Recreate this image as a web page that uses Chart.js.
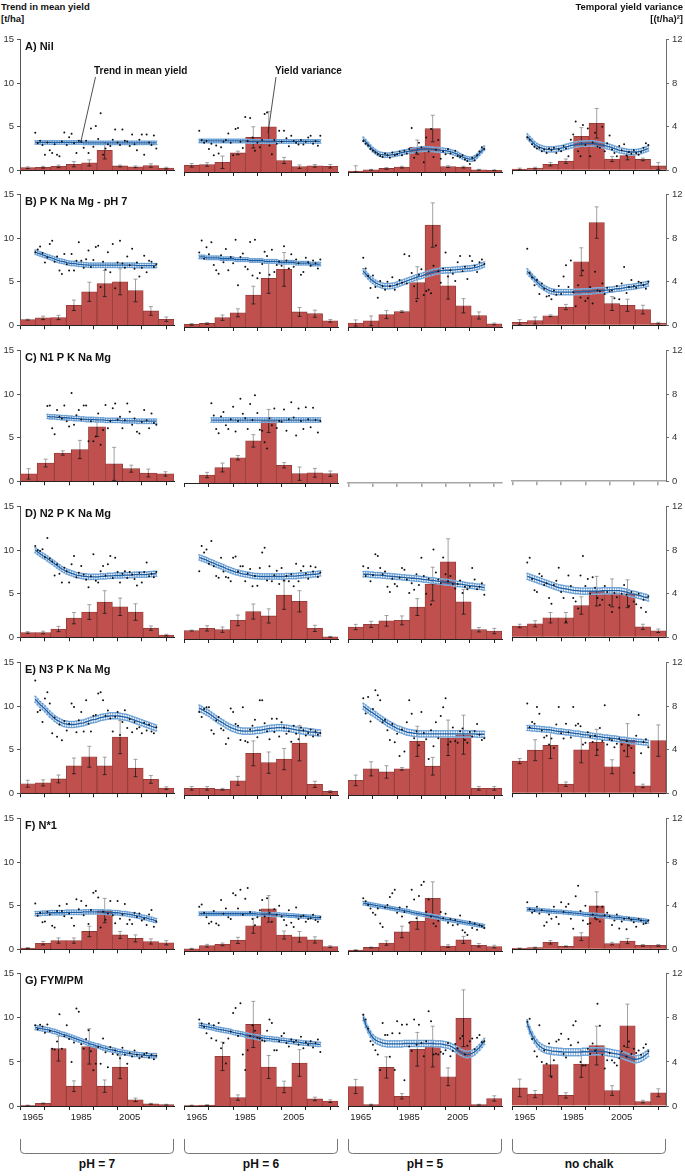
<!DOCTYPE html>
<html>
<head>
<meta charset="utf-8">
<script src="https://cdn.jsdelivr.net/npm/chart.js@4.4.0/dist/chart.umd.min.js"></script>
<style>
  html, body { margin: 0; padding: 0; background: #fff; }
  body { width: 685px; height: 1176px; position: relative; overflow: hidden;
         font-family: 'Liberation Sans', Arial, sans-serif; color: #111; }
  canvas { position: absolute; }
  .lbl { position: absolute; white-space: nowrap; font-weight: bold; line-height: 12px; }
  svg { position: absolute; left: 0; top: 0; }
</style>
</head>
<body>
<script>
// Years of the annual records
const yearsAll = [1966,1967,1968,1969,1970,1971,1972,1973,1974,1975,
                  1976,1977,1978,1979,1980,1981,1982,1983,1984,1985,
                  1986,1987,1988,1989,1990,1991,1992,1993,1994,1995,
                  1996,1997,1998,1999,2000,2001,2002,2003,2004,2005,
                  2006,2007,2008,2009,2010,2011,2012,2013,2014,2015,2016];
const yearsN1 = yearsAll.slice(5); // N1 plots only from 1971
const xTickYears = [1965, 1975, 1985, 1995, 2005, 2015];
const xLabelYears = [1965, 1985, 2005];

const rowTitles = ['A) Nil', 'B) P K Na Mg - pH 7', 'C) N1 P K Na Mg', 'D) N2 P K Na Mg',
                   'E) N3 P K Na Mg', 'F) N*1', 'G) FYM/PM'];
const colTitles = ['pH = 7', 'pH = 6', 'pH = 5', 'no chalk'];

// ---- A) Nil ----
const yieldA1 = [4.3,3.1,3.4,2.9,1.8,3.2,2.3,2.0,3.0,1.8, 1.6,3.3,4.35,2.9,3.8,4.2,3.1,2.0,3.4,3.3, 2.6,3.4,2.0,4.8,2.7,5.1,3.6,6.55,1.8,2.5, 3.0,2.8,3.5,4.7,3.2,2.9,4.7,3.4,3.3,2.8, 4.1,3.0,2.3,3.5,4.1,1.8,4.1,3.2,2.9,4.0, 2.5];
const yieldA2 = [4.65,3.6,3.3,3.5,2.6,3.2,1.9,3.0,2.1,2.8, 3.4,3.6,4.35,3.3,1.9,4.85,4.95,3.4,2.7,6.2, 3.5,6.1,3.9,2.4,3.3,2.8,3.6,6.55,6.7,3.0, 2.0,3.6,3.2,4.65,3.4,4.65,3.8,2.9,4.1,3.5, 3.3,3.1,3.6,3.1,3.4,3.9,4.1,3.2,3.5,2.95, 4.1];
const yieldA3 = [3.5,3.2,3.0,2.6,2.4,2.2,2.0,1.8,1.7,2.1, 1.9,1.6,2.2,1.9,2.0,2.3,1.9,2.4,2.1,2.6, 4.95,1.6,2.2,3.3,2.8,1.1,3.9,2.3,4.85,1.7, 2.5,3.6,1.5,2.3,2.0,2.6,2.1,1.6,2.4,1.8, 1.7,1.9,1.4,1.25,0.9,1.6,1.3,1.9,2.3,2.8, 2.6];
const yieldA4 = [3.8,3.5,3.0,2.7,2.5,2.6,2.2,2.4,2.0,2.5, 2.3,2.6,2.0,2.4,2.2,2.8,2.5,1.6,3.5,4.1, 5.6,2.2,1.6,5.2,2.9,4.8,1.6,3.2,4.3,2.7, 2.6,5.0,2.2,3.1,4.0,2.4,2.0,1.6,2.8,2.3, 3.0,1.7,2.1,1.9,2.3,2.0,1.8,2.1,2.6,3.1, 2.9];
const trendA1 = [3.2,3.2,3.2,3.2,3.2,3.2,3.2,3.2,3.2,3.2, 3.2,3.2,3.2,3.2,3.2,3.2,3.2,3.2,3.2,3.2, 3.15,3.15,3.15,3.15,3.15,3.15,3.15,3.15,3.15,3.15, 3.15,3.15,3.15,3.15,3.15,3.15,3.15,3.15,3.15,3.15, 3.15,3.15,3.15,3.15,3.15,3.15,3.15,3.15,3.15,3.15, 3.15];
const trendA2 = [3.5,3.5,3.5,3.5,3.5,3.5,3.5,3.5,3.5,3.5, 3.5,3.5,3.5,3.5,3.5,3.5,3.5,3.5,3.5,3.5, 3.45,3.45,3.45,3.45,3.45,3.45,3.45,3.45,3.45,3.45, 3.45,3.45,3.45,3.45,3.45,3.45,3.45,3.45,3.45,3.45, 3.45,3.45,3.45,3.45,3.45,3.45,3.45,3.45,3.45,3.45, 3.45];
const trendA3 = [3.7,3.4,3.1,2.8,2.5,2.3,2.1,2.0,1.95,1.9, 1.9,1.9,1.95,2.0,2.05,2.1,2.2,2.25,2.3,2.35, 2.4,2.45,2.5,2.55,2.55,2.6,2.6,2.6,2.55,2.55, 2.5,2.5,2.45,2.45,2.4,2.35,2.3,2.2,2.1,2.0, 1.85,1.7,1.6,1.5,1.45,1.45,1.6,1.8,2.1,2.4, 2.7];
const trendA4 = [3.9,3.6,3.3,3.0,2.8,2.65,2.55,2.45,2.4,2.4, 2.4,2.4,2.45,2.5,2.55,2.6,2.7,2.75,2.85,2.9, 2.95,3.0,3.05,3.05,3.1,3.1,3.1,3.1,3.05,3.0, 2.95,2.9,2.85,2.75,2.7,2.6,2.5,2.4,2.3,2.25, 2.2,2.15,2.1,2.1,2.1,2.1,2.15,2.2,2.3,2.4, 2.5];
const varA1 = [0.24,0.28,0.36,0.56,0.68,1.84,0.40,0.32,0.44,0.20];
const varA2 = [0.6,0.68,0.88,1.72,3.12,4.08,1.04,0.48,0.56,0.52];
const varA3 = [0.08,0.2,0.32,0.44,2.24,3.92,0.48,0.44,0.2,0.16];
const varA4 = [0.12,0.2,0.56,0.84,3.12,4.32,1.04,1.36,1.0,0.4];
const errA1 = [0.08,0.08,0.12,0.24,0.28,0.8,0.08,0.08,0.16,0.08];
const errA2 = [0.16,0.16,0.56,0.16,0.96,1.36,0.28,0.16,0.12,0.16];
const errA3 = [0.48,0.04,0.08,0.08,0.64,1.2,0.08,0.08,0.04,0.04];
const errA4 = [0.08,0.08,0.16,0.2,0.8,1.36,0.24,0.4,0.12,0.32];

// ---- B) P K Na Mg - pH 7 ----
const yieldB1 = [8.4,8.7,9.05,8.3,7.2,7.8,9.35,9.7,7.3,7.9, 6.3,5.9,8.2,7.0,6.3,8.2,6.3,7.4,9.55,7.4, 6.6,7.6,8.6,6.7,7.5,9.0,9.15,4.4,7.3,6.4, 8.4,6.1,9.35,4.25,7.2,9.7,7.1,6.6,7.9,6.9, 8.8,6.5,7.2,5.6,6.6,8.0,6.1,7.4,7.3,6.7, 7.0];
const yieldB2 = [8.4,9.75,7.7,9.0,8.2,9.55,7.0,6.4,6.0,8.1, 7.3,8.8,6.4,7.9,7.2,9.85,4.7,7.9,8.3,6.8, 6.5,9.6,5.8,9.85,5.5,6.1,7.1,8.5,8.0,5.9, 8.7,6.2,7.0,7.4,6.9,9.1,7.5,6.6,8.2,6.8, 7.6,7.2,5.9,6.2,7.8,7.3,6.9,7.5,7.2,6.6, 7.6];
const yieldB3 = [7.8,6.6,5.75,4.4,5.8,4.5,3.3,5.2,4.6,4.2, 5.1,4.6,5.6,4.2,4.8,5.3,5.0,8.2,4.9,8.0, 6.1,4.6,2.9,5.9,6.5,3.6,4.05,4.2,3.8,6.9, 9.2,6.3,5.0,6.6,8.4,5.7,6.4,6.0,5.2,7.3, 8.0,6.3,6.8,5.4,8.0,7.45,6.9,6.2,7.3,7.6, 7.1];
const yieldB4 = [8.8,6.0,5.5,4.6,5.2,3.6,4.8,4.2,3.3,3.4, 3.0,4.0,3.5,4.5,3.6,5.6,6.9,4.4,7.45,3.8, 2.2,4.6,3.2,6.3,2.8,3.1,4.4,2.5,6.15,4.0, 3.9,4.8,3.6,4.3,3.9,4.0,3.1,4.5,3.0,4.8, 6.7,3.7,4.4,5.2,4.5,4.3,5.0,4.9,4.6,4.2, 5.0];
const trendB1 = [8.4,8.3,8.2,8.1,8.0,7.9,7.8,7.7,7.6,7.5, 7.4,7.35,7.3,7.2,7.15,7.1,7.1,7.05,7.0,7.0, 6.95,6.95,6.9,6.9,6.9,6.9,6.9,6.9,6.9,6.9, 6.9,6.9,6.9,6.9,6.9,6.9,6.9,6.9,6.9,6.9, 6.9,6.9,6.85,6.85,6.85,6.85,6.85,6.85,6.85,6.85, 6.85];
const trendB2 = [7.9,7.9,7.9,7.8,7.8,7.8,7.8,7.8,7.8,7.7, 7.7,7.7,7.7,7.7,7.7,7.6,7.6,7.6,7.6,7.6, 7.6,7.5,7.5,7.5,7.5,7.5,7.5,7.4,7.4,7.4, 7.4,7.4,7.4,7.3,7.3,7.3,7.3,7.3,7.3,7.3, 7.2,7.2,7.2,7.2,7.2,7.2,7.1,7.1,7.1,7.1, 7.1];
const trendB3 = [6.3,6.0,5.7,5.4,5.2,5.0,4.85,4.75,4.65,4.6, 4.6,4.6,4.65,4.7,4.8,4.9,5.0,5.1,5.2,5.3, 5.4,5.5,5.6,5.7,5.75,5.85,5.95,6.05,6.1,6.2, 6.25,6.3,6.35,6.35,6.4,6.4,6.4,6.45,6.45,6.5, 6.5,6.55,6.55,6.6,6.6,6.65,6.7,6.75,6.85,6.95, 7.05];
const trendB4 = [6.2,5.9,5.6,5.3,5.0,4.7,4.5,4.3,4.15,4.0, 3.9,3.85,3.8,3.8,3.8,3.8,3.8,3.8,3.8,3.8, 3.85,3.85,3.85,3.9,3.9,3.9,3.9,3.95,3.95,4.0, 4.0,4.0,4.05,4.05,4.1,4.1,4.15,4.2,4.2,4.25, 4.3,4.35,4.4,4.4,4.45,4.5,4.55,4.6,4.65,4.7, 4.8];
const varB1 = [0.52,0.68,0.72,1.84,3.08,3.84,4.0,3.2,1.32,0.56];
const varB2 = [0.24,0.32,0.84,1.28,2.88,4.4,5.2,1.36,1.2,0.56];
const varB3 = [0.36,0.56,1.12,1.4,4.0,9.2,3.72,1.92,1.04,0.28];
const varB4 = [0.28,0.44,0.88,1.68,5.84,9.44,2.0,1.84,1.44,0.2];
const errB1 = [0.04,0.16,0.2,0.48,0.88,1.2,1.2,1.04,0.4,0.2];
const errB2 = [0.08,0.08,0.24,0.36,0.8,1.36,1.52,0.4,0.32,0.12];
const errB3 = [0.28,0.44,0.36,0.08,1.44,2.0,1.2,0.64,0.32,0.08];
const errB4 = [0.24,0.32,0.08,0.24,1.28,1.44,0.64,0.56,0.4,0.08];

// ---- C) N1 P K Na Mg (from 1971, two pH levels only) ----
const yieldC1 = [8.65,8.7,6.1,5.4,8.2,7.4,7.2,8.7,6.9,6.3, 10.15,6.5,7.6,8.2,7.1,8.7,8.7,4.6,6.9,4.6, 5.15,7.8,4.2,5.9,8.75,6.1,6.9,8.4,8.95,7.1, 7.4,6.1,7.0,8.95,8.0,6.5,7.2,5.7,5.5,6.8, 8.2,7.0,6.1,7.8,6.7,6.5];
const yieldC2 = [9.0,7.6,6.1,5.6,7.5,8.0,6.5,6.1,7.2,8.6, 5.8,7.0,9.5,7.8,7.3,6.1,8.9,7.1,9.9,7.9, 6.0,5.9,4.6,3.9,7.3,6.5,8.4,6.2,7.0,6.9, 8.3,5.9,7.2,9.1,7.4,5.35,8.4,7.0,6.1,8.55, 7.2,6.3,8.5,7.1,5.7,7.0];
const trendC1 = [7.45,7.4,7.4,7.4,7.35,7.35,7.3,7.3,7.3,7.25, 7.25,7.2,7.2,7.2,7.15,7.15,7.1,7.1,7.1,7.1, 7.05,7.05,7.05,7.05,7.0,7.0,7.0,7.0,7.0,7.0, 7.0,6.95,6.95,6.95,6.95,6.95,6.95,6.9,6.9,6.9, 6.9,6.9,6.9,6.9,6.9,6.9];
const trendC2 = [7.1,7.1,7.1,7.1,7.1,7.1,7.1,7.1,7.1,7.1, 7.1,7.1,7.1,7.1,7.1,7.1,7.1,7.1,7.1,7.1, 7.1,7.1,7.1,7.1,7.1,7.1,7.1,7.1,7.1,7.1, 7.1,7.1,7.1,7.1,7.1,7.1,7.1,7.1,7.1,7.1, 7.1,7.1,7.1,7.1,7.1,7.1];
const varC1 = [0.68,1.68,2.6,2.92,5.0,1.6,1.16,0.76,0.68];
const varC2 = [null,0.72,1.4,2.28,3.8,5.6,1.6,0.84,0.92,0.84];
const errC1 = [0.48,0.36,0.2,0.84,0.88,1.52,0.32,0.36,0.2];
const errC2 = [0,0.24,0.4,0.2,0.56,1.04,0.24,0.6,0.4,0.24];

// ---- D) N2 P K Na Mg ----
const yieldD1 = [10.5,10.0,9.9,10.1,9.2,11.4,9.05,8.7,7.1,8.4, 7.3,6.3,8.0,7.6,6.3,8.4,9.35,6.9,7.4,8.2, 7.2,6.6,5.75,7.0,9.55,6.5,6.3,7.6,8.2,7.1, 8.4,9.35,6.8,9.15,7.5,6.3,7.3,7.6,6.8,7.5, 7.2,6.7,5.95,7.4,6.3,7.5,8.6,7.0,7.3,6.9, 7.5];
const yieldD2 = [7.65,10.5,9.75,10.1,8.5,11.05,8.2,7.1,6.9,9.15, 7.6,7.0,6.9,6.5,9.15,9.3,7.6,8.2,8.2,6.5, 7.4,7.9,5.95,7.1,6.0,8.0,9.75,10.3,6.6,8.2, 6.5,7.2,7.7,6.2,8.0,6.6,7.1,6.5,7.3,5.95, 8.5,6.5,7.7,8.2,7.4,6.8,8.2,7.6,8.1,7.0, 7.5];
const yieldD3 = [8.2,7.1,8.0,6.5,7.2,9.55,9.35,8.0,7.3,7.6, 5.9,5.3,6.8,6.2,5.95,6.9,8.0,7.8,6.7,5.2, 6.3,5.55,7.3,6.1,9.15,7.1,5.1,6.8,3.9,10.1, 7.5,6.7,6.3,9.2,7.3,6.5,7.1,6.2,5.7,6.2, 6.6,5.2,5.9,5.6,5.9,8.0,6.7,5.6,5.9,6.3, 5.0];
const yieldD4 = [8.6,9.15,6.7,5.4,5.2,7.3,7.0,6.0,6.2,4.5, 3.85,6.0,6.5,8.0,5.2,4.5,1.8,7.1,5.9,4.5, 4.1,3.3,7.1,9.35,5.9,6.7,5.0,6.9,5.7,4.5, 3.7,4.3,5.9,5.2,3.7,2.9,5.1,4.6,3.4,5.0, 6.0,4.9,3.6,5.2,4.1,3.8,5.0,3.4,4.3,2.9, 4.7];
const trendD1 = [10.0,9.8,9.6,9.4,9.25,9.05,8.85,8.65,8.45,8.25, 8.05,7.85,7.7,7.55,7.45,7.35,7.25,7.15,7.1,7.05, 7.0,7.0,6.95,6.95,6.95,6.95,6.95,7.0,7.0,7.0, 7.05,7.05,7.05,7.1,7.1,7.1,7.1,7.15,7.15,7.15, 7.15,7.2,7.2,7.2,7.2,7.2,7.2,7.25,7.25,7.3, 7.3];
const trendD2 = [9.2,9.1,9.0,8.9,8.75,8.65,8.55,8.4,8.3,8.2, 8.1,7.95,7.85,7.75,7.65,7.55,7.5,7.4,7.35,7.3, 7.25,7.2,7.15,7.1,7.1,7.05,7.05,7.05,7.05,7.05, 7.05,7.05,7.05,7.05,7.05,7.05,7.1,7.1,7.1,7.1, 7.1,7.15,7.15,7.2,7.2,7.25,7.25,7.3,7.3,7.35, 7.4];
const trendD3 = [7.3,7.3,7.3,7.25,7.25,7.2,7.2,7.2,7.15,7.15, 7.1,7.1,7.05,7.05,7.0,7.0,6.95,6.95,6.9,6.9, 6.85,6.85,6.8,6.8,6.75,6.7,6.7,6.65,6.6,6.6, 6.55,6.5,6.5,6.45,6.4,6.4,6.35,6.3,6.25,6.2, 6.2,6.15,6.1,6.05,6.0,6.0,5.95,5.9,5.9,5.85, 5.8];
const trendD4 = [7.0,6.9,6.8,6.7,6.6,6.5,6.4,6.3,6.2,6.1, 6.0,5.9,5.8,5.7,5.65,5.6,5.55,5.5,5.45,5.4, 5.35,5.35,5.3,5.3,5.3,5.3,5.3,5.3,5.3,5.3, 5.3,5.35,5.35,5.35,5.35,5.35,5.35,5.35,5.35,5.3, 5.25,5.2,5.1,5.0,4.95,4.9,4.8,4.75,4.65,4.6, 4.5];
const varD1 = [0.44,0.44,0.76,1.76,2.32,3.24,2.8,2.32,0.84,0.2];
const varD2 = [0.76,0.96,0.84,1.68,2.48,2.08,3.96,3.4,0.96,0.2];
const varD3 = [1.08,1.32,1.64,1.68,2.88,4.96,6.96,3.36,0.84,0.72];
const varD4 = [1.04,1.24,1.8,1.8,2.92,4.24,4.08,4.0,0.96,0.6];
const errD1 = [0.08,0.12,0.24,0.52,0.68,1.04,0.8,0.76,0.2,0.08];
const errD2 = [0.04,0.24,0.24,0.48,0.68,0.64,1.28,0.96,0.28,0.04];
const errD3 = [0.24,0.28,0.48,0.4,0.76,1.52,2.08,1.12,0.2,0.24];
const errD4 = [0.16,0.28,0.48,0.48,0.8,1.36,1.28,1.28,0.24,0.16];

// ---- E) N3 P K Na Mg ----
const yieldE1 = [12.95,9.35,9.55,8.2,10.9,11.6,10.3,6.9,8.7,6.5, 7.9,6.1,8.3,7.2,8.0,10.3,9.9,7.0,8.4,9.35, 7.1,10.7,8.0,7.1,8.9,9.0,11.45,11.6,10.7,8.9, 9.5,8.6,7.1,8.8,9.35,6.7,8.2,9.55,7.5,8.5, 7.0,8.2,7.4,7.6,6.9,8.1,7.2,7.9,7.1,6.9, 7.6];
const yieldE2 = [9.35,8.8,9.7,9.9,9.9,7.3,6.9,8.4,8.8,7.5, 7.3,5.75,6.4,9.75,9.35,8.0,7.8,6.2,9.9,6.1, 5.95,7.4,7.8,8.5,6.5,10.7,10.7,8.1,7.2,6.3, 8.6,7.1,8.6,6.6,8.2,7.6,6.9,7.2,6.0,7.8, 6.9,6.3,7.6,7.3,6.7,7.0,7.4,6.6,7.2,6.8, 7.0];
const yieldE3 = [10.9,9.2,11.05,8.3,9.7,11.8,11.25,10.7,8.2,8.5, 7.3,6.2,8.0,5.95,6.9,4.4,7.4,4.9,8.2,10.7, 9.15,6.4,7.2,5.6,9.35,7.0,6.3,4.05,7.3,5.5, 8.2,6.4,8.9,9.9,10.9,5.7,6.0,7.6,6.1,5.9, 7.2,7.5,6.2,5.9,7.1,6.6,7.2,8.0,6.8,6.2, 6.4];
const yieldE4 = [10.3,7.6,8.2,8.0,9.9,9.15,7.2,6.4,6.6,5.6, 6.3,5.2,7.9,9.9,6.9,6.3,8.0,7.0,6.4,9.9, 7.8,8.0,7.7,5.6,5.8,7.0,6.5,5.9,6.6,5.0, 7.5,6.0,10.1,5.6,6.2,6.1,5.3,5.7,6.3,5.6, 4.9,6.0,5.5,5.2,2.35,6.6,9.0,4.6,5.9,6.2, 5.3];
const trendE1 = [10.8,10.5,10.2,9.95,9.7,9.4,9.1,8.85,8.6,8.4, 8.25,8.1,8.0,7.95,7.9,7.9,7.9,7.95,8.0,8.05, 8.1,8.2,8.3,8.4,8.45,8.5,8.6,8.7,8.75,8.8, 8.85,8.9,8.9,8.9,8.9,8.85,8.8,8.75,8.7,8.6, 8.5,8.4,8.3,8.2,8.1,8.0,7.9,7.8,7.7,7.6, 7.5];
const trendE2 = [9.8,9.65,9.5,9.35,9.2,9.0,8.8,8.6,8.4,8.25, 8.1,7.9,7.75,7.6,7.5,7.4,7.3,7.25,7.2,7.2, 7.2,7.2,7.2,7.25,7.3,7.3,7.35,7.4,7.45,7.5, 7.55,7.55,7.6,7.6,7.6,7.55,7.55,7.5,7.45,7.4, 7.35,7.3,7.25,7.2,7.2,7.15,7.1,7.1,7.05,7.0, 7.0];
const trendE3 = [10.0,9.8,9.6,9.4,9.25,9.05,8.85,8.65,8.45,8.3, 8.1,7.95,7.8,7.65,7.5,7.4,7.3,7.2,7.1,7.05, 7.0,6.95,6.95,6.9,6.9,6.9,6.9,6.9,6.9,6.9, 6.9,6.9,6.9,6.9,6.9,6.9,6.9,6.9,6.9,6.9, 6.9,6.9,6.9,6.9,6.9,6.9,6.9,6.85,6.85,6.85, 6.85];
const trendE4 = [7.5,7.5,7.45,7.45,7.4,7.4,7.35,7.35,7.3,7.3, 7.25,7.2,7.15,7.1,7.1,7.05,7.0,7.0,6.95,6.9, 6.85,6.85,6.8,6.75,6.7,6.7,6.65,6.6,6.55,6.5, 6.5,6.45,6.4,6.4,6.35,6.3,6.3,6.25,6.2,6.15, 6.15,6.1,6.05,6.0,6.0,5.95,5.9,5.9,5.85,5.85, 5.8];
const varE1 = [0.88,0.96,1.32,2.52,3.36,2.52,5.16,2.32,1.28,0.48];
const varE2 = [0.6,0.6,0.52,1.28,3.76,2.92,3.24,4.68,0.96,0.32];
const varE3 = [1.32,2.36,2.08,2.36,4.84,2.6,5.16,5.44,0.6,0.6];
const varE4 = [2.96,3.96,4.4,0.84,4.0,4.68,2.44,4.88,0.68,4.84];
const errE1 = [0.32,0.28,0.36,0.72,0.96,0.8,1.52,0.8,0.36,0.12];
const errE2 = [0.16,0.16,0.08,0.4,1.12,0.96,0.96,1.6,0.28,0.08];
const errE3 = [0.48,0.64,0.56,0.12,1.36,0.8,1.6,1.76,0.16,0.16];
const errE4 = [0.24,0.96,1.2,0.2,1.2,1.2,0.64,1.52,0.16,1.44];

// ---- F) N*1 ----
const yieldF1 = [5.25,3.85,4.2,3.1,3.2,4.3,4.0,2.7,2.5,4.4, 5.0,4.4,3.8,5.2,4.1,3.6,2.7,5.75,4.6,5.55, 3.9,5.0,2.9,4.5,6.5,6.7,5.95,2.5,4.3,3.4, 4.1,5.55,3.9,3.0,5.55,3.5,4.0,5.2,2.9,3.4, 2.9,4.2,3.7,4.1,3.3,3.5,2.8,4.0,4.5,2.6, 3.2];
const yieldF2 = [5.0,5.25,4.3,3.8,3.1,3.3,4.5,3.1,2.9,5.75, 4.2,4.8,3.8,3.6,6.5,6.3,4.8,6.9,4.1,5.9, 7.1,4.4,3.6,2.9,3.8,4.6,5.75,3.9,5.95,4.3, 3.3,4.7,4.1,5.1,3.9,3.5,2.9,4.6,3.2,2.7, 4.9,3.6,3.9,4.0,3.3,3.6,3.7,4.1,3.5,3.3, 3.8];
const yieldF3 = [5.95,5.6,5.2,4.8,4.3,4.1,4.8,3.1,2.7,4.9, 5.2,6.1,6.5,6.9,4.3,4.9,3.9,4.4,5.0,3.2, 6.9,5.8,3.7,6.2,7.45,7.8,4.4,5.8,3.9,3.1, 2.8,3.4,4.4,3.7,4.2,3.2,3.6,2.9,3.5,3.0, 4.0,2.35,2.1,1.8,3.3,2.6,3.1,2.4,2.9,2.8, 2.6];
const yieldF4 = [5.4,4.6,4.2,4.4,4.9,4.1,4.5,2.7,3.1,4.0, 3.5,4.9,3.7,2.9,5.4,4.3,4.9,5.2,3.5,2.35, 6.1,7.3,4.4,3.3,5.0,2.9,3.0,4.0,3.6,4.9, 3.2,4.9,3.9,4.2,3.8,2.8,3.3,4.0,2.4,3.2, 3.5,2.3,3.6,3.4,3.1,2.6,3.5,3.3,2.9,3.0, 3.3];
const trendF1 = [4.1,4.1,4.1,4.15,4.15,4.15,4.2,4.2,4.2,4.2, 4.2,4.2,4.2,4.25,4.25,4.25,4.25,4.25,4.25,4.25, 4.3,4.3,4.3,4.3,4.3,4.3,4.3,4.3,4.3,4.25, 4.25,4.25,4.2,4.2,4.2,4.15,4.1,4.1,4.05,4.0, 3.95,3.9,3.85,3.8,3.7,3.65,3.6,3.5,3.45,3.35, 3.3];
const trendF2 = [4.2,4.2,4.2,4.2,4.2,4.2,4.2,4.2,4.2,4.2, 4.2,4.2,4.2,4.2,4.2,4.2,4.2,4.2,4.2,4.2, 4.2,4.2,4.2,4.2,4.15,4.15,4.15,4.15,4.15,4.15, 4.1,4.1,4.1,4.1,4.05,4.05,4.05,4.0,4.0,4.0, 3.95,3.95,3.9,3.9,3.9,3.85,3.85,3.8,3.8,3.75, 3.75];
const trendF3 = [5.4,5.35,5.3,5.25,5.2,5.15,5.1,5.05,5.0,4.95, 4.9,4.85,4.8,4.75,4.7,4.65,4.6,4.55,4.5,4.45, 4.35,4.3,4.25,4.2,4.15,4.1,4.05,4.0,3.95,3.9, 3.85,3.8,3.7,3.65,3.6,3.55,3.5,3.45,3.4,3.35, 3.3,3.25,3.2,3.15,3.1,3.05,3.0,2.95,2.9,2.85, 2.8];
const trendF4 = [4.6,4.6,4.55,4.55,4.5,4.5,4.45,4.45,4.4,4.4, 4.35,4.35,4.3,4.3,4.3,4.25,4.25,4.2,4.2,4.15, 4.15,4.1,4.1,4.05,4.0,4.0,3.95,3.95,3.9,3.9, 3.85,3.85,3.8,3.8,3.75,3.7,3.7,3.65,3.65,3.6, 3.55,3.55,3.5,3.45,3.45,3.4,3.35,3.35,3.3,3.25, 3.2];
const varF1 = [0.12,0.56,0.8,0.8,1.64,3.56,1.32,1.0,0.72,0.6];
const varF2 = [0.2,0.48,0.6,0.96,2.28,3.8,1.44,1.28,1.0,0.4];
const varF3 = [0.08,0.32,0.72,1.72,2.68,4.76,0.44,1.0,0.52,0.4];
const varF4 = [0.08,0.16,0.64,0.28,1.16,4.0,0.52,0.76,0.36,0.36];
const errF1 = [0.04,0.16,0.24,0.24,0.48,1.12,0.32,0.32,0.24,0.2];
const errF2 = [0.04,0.12,0.12,0.28,0.68,1.2,0.36,0.48,0.28,0.08];
const errF3 = [0.04,0.04,0.2,0.52,0.72,1.48,0.12,0.32,0.16,0.12];
const errF4 = [0.04,0.04,0.16,0.04,0.36,1.28,0.12,0.24,0.08,0.08];

// ---- G) FYM/PM ----
const yieldG1 = [9.15,8.7,9.2,9.0,8.3,9.25,8.5,6.5,6.4,7.3, 10.4,6.5,7.9,9.15,7.6,5.0,7.2,11.05,10.7,7.0, 6.5,7.6,8.6,6.2,4.05,4.8,6.7,4.8,7.65,6.1, 4.4,6.7,5.9,6.3,5.8,5.4,6.6,5.8,4.8,6.0, 5.6,6.3,5.8,5.4,5.6,5.9,6.0,5.5,5.8,5.3, 5.7];
const yieldG2 = [9.75,9.3,8.9,8.2,9.3,7.65,9.1,7.4,9.35,6.5, 7.1,4.8,7.6,8.4,10.5,11.05,7.9,11.6,5.8,4.05, 6.3,7.9,9.1,8.5,7.7,7.6,7.4,7.3,8.5,9.75, 9.35,6.3,6.3,7.3,7.9,8.2,7.1,6.7,7.5,7.2, 7.4,6.9,7.8,6.5,7.2,6.9,7.3,6.6,7.1,7.5, 6.1];
const yieldG3 = [10.3,9.75,8.7,7.3,6.9,6.3,5.8,4.05,9.35,8.0, 8.0,5.55,8.2,4.05,9.55,8.2,9.15,2.9,9.2,6.7, 6.2,9.75,6.9,9.15,7.1,5.6,7.3,10.7,9.55,5.8, 5.9,5.8,6.1,5.9,6.3,7.1,5.6,6.2,7.0,6.5, 7.6,7.9,5.8,6.8,7.3,7.6,6.4,7.7,8.0,7.2, 7.3];
const yieldG4 = [9.55,9.9,7.6,6.2,5.6,9.15,5.0,6.3,4.8,7.1, 3.3,5.2,7.3,7.5,8.2,5.9,5.5,7.6,6.9,9.15, 9.6,7.2,5.0,4.6,4.6,6.5,5.9,7.1,6.3,11.6, 9.1,5.8,4.25,5.2,6.0,5.2,4.9,4.6,5.4,6.2, 6.8,5.6,7.3,5.9,6.5,6.0,6.3,5.8,6.6,7.0, 6.2];
const trendG1 = [8.9,8.85,8.8,8.75,8.7,8.65,8.6,8.5,8.45,8.35, 8.25,8.15,8.1,8.0,7.9,7.8,7.7,7.6,7.5,7.4, 7.3,7.2,7.1,7.0,6.95,6.85,6.8,6.7,6.6,6.55, 6.45,6.4,6.35,6.3,6.2,6.15,6.1,6.05,6.0,5.95, 5.9,5.85,5.85,5.8,5.8,5.75,5.75,5.7,5.7,5.7, 5.7];
const trendG2 = [9.1,9.05,9.0,8.95,8.9,8.85,8.8,8.7,8.65,8.6, 8.55,8.5,8.45,8.4,8.3,8.25,8.2,8.15,8.1,8.0, 7.95,7.9,7.85,7.8,7.75,7.7,7.7,7.65,7.6,7.6, 7.55,7.5,7.5,7.45,7.4,7.4,7.35,7.3,7.3,7.25, 7.2,7.2,7.15,7.1,7.1,7.05,7.05,7.0,7.0,6.95, 6.95];
const trendG3 = [10.0,9.2,8.6,8.1,7.7,7.45,7.3,7.2,7.1,7.05, 7.0,7.0,7.0,7.0,7.0,7.0,7.0,7.05,7.05,7.05, 7.05,7.05,7.05,7.05,7.05,7.05,7.05,7.05,7.05,7.05, 7.0,7.0,7.0,6.95,6.9,6.85,6.75,6.6,6.45,6.3, 6.1,5.95,5.85,5.8,5.85,5.95,6.1,6.35,6.6,6.95, 7.3];
const trendG4 = [9.4,8.6,8.0,7.5,7.1,6.8,6.6,6.45,6.35,6.3, 6.25,6.2,6.2,6.15,6.15,6.1,6.1,6.1,6.1,6.1, 6.1,6.1,6.1,6.15,6.15,6.15,6.2,6.2,6.2,6.2, 6.2,6.2,6.15,6.1,6.05,6.0,5.95,5.9,5.85,5.8, 5.7,5.6,5.5,5.4,5.3,5.3,5.35,5.45,5.6,5.8, 6.0];
const varG1 = [0.04,0.24,5.2,1.8,5.4,1.8,3.52,0.56,0.2,0.12];
const varG2 = [0.04,0.08,4.48,0.76,7.36,3.52,1.72,3.88,0.64,0.44];
const varG3 = [1.76,0.12,3.48,0.88,5.12,5.36,2.64,7.92,0.12,0.68];
const varG4 = [1.64,1.08,3.76,0.96,3.8,5.48,1.4,7.28,0.4,1.2];
const errG1 = [0.04,0.04,1.12,0.48,1.6,0.56,1.04,0.16,0.04,0.04];
const errG2 = [0.04,0.04,1.28,0.24,2.08,1.04,0.52,1.2,0.16,0.12];
const errG3 = [0.64,0.04,0.96,0.24,1.52,1.84,0.8,2.56,0.04,0.24];
const errG4 = [0.8,0.32,1.04,0.24,1.2,1.76,0.44,1.96,0.12,0.36];

// one entry per panel: [row][column], null = treatment not present
const panels = [
  [ {yields: yieldA1, trend: trendA1, se: 0.2,  vari: varA1, err: errA1},
    {yields: yieldA2, trend: trendA2, se: 0.2,  vari: varA2, err: errA2},
    {yields: yieldA3, trend: trendA3, se: 0.25, vari: varA3, err: errA3},
    {yields: yieldA4, trend: trendA4, se: 0.3,  vari: varA4, err: errA4} ],
  [ {yields: yieldB1, trend: trendB1, se: 0.25, vari: varB1, err: errB1},
    {yields: yieldB2, trend: trendB2, se: 0.2,  vari: varB2, err: errB2},
    {yields: yieldB3, trend: trendB3, se: 0.3,  vari: varB3, err: errB3},
    {yields: yieldB4, trend: trendB4, se: 0.3,  vari: varB4, err: errB4} ],
  [ {years: yearsN1, yields: yieldC1, trend: trendC1, se: 0.25, vari: varC1, err: errC1},
    {years: yearsN1, yields: yieldC2, trend: trendC2, se: 0.25, vari: varC2, err: errC2},
    null, null ],
  [ {yields: yieldD1, trend: trendD1, se: 0.3,  vari: varD1, err: errD1},
    {yields: yieldD2, trend: trendD2, se: 0.3,  vari: varD2, err: errD2},
    {yields: yieldD3, trend: trendD3, se: 0.3,  vari: varD3, err: errD3},
    {yields: yieldD4, trend: trendD4, se: 0.35, vari: varD4, err: errD4} ],
  [ {yields: yieldE1, trend: trendE1, se: 0.35, vari: varE1, err: errE1},
    {yields: yieldE2, trend: trendE2, se: 0.35, vari: varE2, err: errE2},
    {yields: yieldE3, trend: trendE3, se: 0.35, vari: varE3, err: errE3},
    {yields: yieldE4, trend: trendE4, se: 0.3,  vari: varE4, err: errE4} ],
  [ {yields: yieldF1, trend: trendF1, se: 0.25, vari: varF1, err: errF1},
    {yields: yieldF2, trend: trendF2, se: 0.2,  vari: varF2, err: errF2},
    {yields: yieldF3, trend: trendF3, se: 0.2,  vari: varF3, err: errF3},
    {yields: yieldF4, trend: trendF4, se: 0.2,  vari: varF4, err: errF4} ],
  [ {yields: yieldG1, trend: trendG1, se: 0.25, vari: varG1, err: errG1},
    {yields: yieldG2, trend: trendG2, se: 0.25, vari: varG2, err: errG2},
    {yields: yieldG3, trend: trendG3, se: 0.35, vari: varG3, err: errG3},
    {yields: yieldG4, trend: trendG4, se: 0.4,  vari: varG4, err: errG4} ]
];

// layout
const PLOT_W = 154, PLOT_H = 133, PAD_T = 8;
const COL_LEFT = [20, 184, 348, 512];
function rowTop(r) { return Math.round(38.5 + 155.8 * r); }

Chart.defaults.font.family = "'Liberation Sans', Arial, sans-serif";
Chart.defaults.animation = false;

// ribbon with error ticks behind the trend line, whiskers on the variance bars
const errorBarPlugin = {
  id: 'errorBars',
  beforeDatasetDraw(chart, args) {
    const ds = chart.data.datasets[args.index];
    if (!ds.se) return;
    const ctx = chart.ctx, ys = chart.scales.y;
    const pts = args.meta.data;
    const up = ds.data.map(d => ys.getPixelForValue(d.y + ds.se));
    const lo = ds.data.map(d => ys.getPixelForValue(d.y - ds.se));
    ctx.save();
    ctx.strokeStyle = '#a9cbea';
    ctx.lineWidth = 1.5;
    [up, lo].forEach(edge => {
      ctx.beginPath();
      pts.forEach((p, i) => i ? ctx.lineTo(p.x, edge[i]) : ctx.moveTo(p.x, edge[i]));
      ctx.stroke();
    });
    ctx.strokeStyle = '#4a88c7';
    ctx.lineWidth = 0.7;
    ctx.beginPath();
    pts.forEach((p, i) => {
      ctx.moveTo(p.x, up[i]); ctx.lineTo(p.x, lo[i]);
      ctx.moveTo(p.x - 1.1, up[i]); ctx.lineTo(p.x + 1.1, up[i]);
      ctx.moveTo(p.x - 1.1, lo[i]); ctx.lineTo(p.x + 1.1, lo[i]);
    });
    ctx.stroke();
    ctx.restore();
  },
  afterDatasetDraw(chart, args) {
    const ds = chart.data.datasets[args.index];
    if (!ds.errors) return;
    const ctx = chart.ctx, y2 = chart.scales.y2;
    ctx.save();
    ctx.lineWidth = 0.8;
    args.meta.data.forEach((bar, i) => {
      const v = ds.data[i], e = ds.errors[i];
      if (v == null || !e) return;
      const top = y2.getPixelForValue(v + e);
      const mid = y2.getPixelForValue(v);
      const bot = y2.getPixelForValue(Math.max(v - e, 0));
      // part above the bar is grey, part inside the bar is dark
      ctx.strokeStyle = '#8a8a8a';
      ctx.beginPath();
      ctx.moveTo(bar.x, top); ctx.lineTo(bar.x, mid);
      ctx.moveTo(bar.x - 2, top); ctx.lineTo(bar.x + 2, top);
      ctx.stroke();
      ctx.strokeStyle = '#1a1a1a';
      ctx.beginPath();
      ctx.moveTo(bar.x, mid); ctx.lineTo(bar.x, bot);
      ctx.moveTo(bar.x - 2, bot); ctx.lineTo(bar.x + 2, bot);
      ctx.stroke();
    });
    ctx.restore();
  }
};

function makePanel(p, r, c) {
  const isBottom = r === rowTitles.length - 1;
  const xAxisH = isBottom ? 20 : 5;
  const axisL = c === 0 ? 20 : 0, axisR = c === 3 ? 20 : 0;
  const padL = c === 0 ? 0 : 12, padR = c === 3 ? 0 : 12;
  const canvas = document.createElement('canvas');
  canvas.width = padL + axisL + PLOT_W + axisR + padR;
  canvas.height = PAD_T + PLOT_H + xAxisH + 2;
  canvas.style.left = (COL_LEFT[c] - axisL - padL) + 'px';
  canvas.style.top = (rowTop(r) - PAD_T) + 'px';
  document.body.appendChild(canvas);

  const xColor = p ? '#222' : '#a6a6a6';
  const xWidth = p ? 1 : 1.6;
  let binLabels = ['0'];
  // an empty placeholder keeps the axes drawn for the missing treatments
  const datasets = [{ type: 'scatter', xAxisID: 'x', yAxisID: 'y', data: [], pointRadius: 0 }];
  if (p) {
    const yrs = p.years || yearsAll;
    binLabels = p.vari.map((v, i) => String(i));
    datasets.push({
      type: 'scatter', order: 1, xAxisID: 'x', yAxisID: 'y',
      data: p.yields.map((v, i) => ({ x: yrs[i], y: v })),
      pointRadius: 1, pointBackgroundColor: '#111', pointBorderWidth: 0
    });
    datasets.push({
      type: 'line', order: 2, xAxisID: 'x', yAxisID: 'y', se: p.se,
      data: p.trend.map((v, i) => ({ x: yrs[i], y: v })),
      borderColor: '#1d5fa6', borderWidth: 1.3, pointRadius: 0, tension: 0
    });
    datasets.push({
      type: 'bar', order: 3, xAxisID: 'xb', yAxisID: 'y2', errors: p.err,
      data: p.vari,
      backgroundColor: '#c0504d', borderColor: '#8c3835', borderWidth: 0.8,
      grouped: false, barPercentage: 1, categoryPercentage: 1
    });
  }

  new Chart(canvas, {
    type: 'bar',
    data: { labels: binLabels, datasets: datasets },
    plugins: [errorBarPlugin],
    options: {
      responsive: false,
      events: [],
      layout: { padding: { top: PAD_T, left: padL, right: padR, bottom: 2 } },
      plugins: { legend: { display: false }, tooltip: { enabled: false } },
      scales: {
        x: {
          type: 'linear', position: 'bottom', min: 1965, max: 2018,
          afterBuildTicks: s => { s.ticks = xTickYears.map(v => ({ value: v })); },
          afterFit: s => { s.height = xAxisH; },
          grid: { drawOnChartArea: false, drawTicks: true, tickLength: 4, color: xColor, lineWidth: xWidth },
          border: { display: true, color: xColor, width: xWidth },
          ticks: {
            display: isBottom, autoSkip: false, maxRotation: 0, padding: 2,
            color: '#222', font: { size: 9.5 },
            callback: v => xLabelYears.includes(v) ? String(v) : ''
          }
        },
        xb: { type: 'category', display: false, offset: true, labels: binLabels },
        y: {
          display: c === 0, position: 'left', min: 0, max: 15,
          afterFit: s => { s.width = axisL; },
          grid: { drawOnChartArea: false, tickLength: 3, color: '#555' },
          border: { display: true, color: '#555', width: 1 },
          ticks: { stepSize: 5, padding: 3, color: '#333', font: { size: 9.5 } }
        },
        y2: {
          display: c === 3, position: 'right', min: 0, max: 12,
          afterFit: s => { s.width = axisR; },
          grid: { drawOnChartArea: false, tickLength: 3, color: '#6b6b6b' },
          border: { display: true, color: '#6b6b6b', width: 1 },
          ticks: { stepSize: 4, padding: 3, color: '#333', font: { size: 9.5 } }
        }
      }
    }
  });
}

panels.forEach((row, r) => row.forEach((p, c) => makePanel(p, r, c)));

// text overlays
function addLabel(text, style) {
  const d = document.createElement('div');
  d.className = 'lbl';
  d.textContent = text;
  Object.assign(d.style, style);
  document.body.appendChild(d);
  return d;
}

addLabel('Trend in mean yield', { left: '1px', top: '1px', fontSize: '9.5px' });
addLabel('[t/ha]', { left: '1px', top: '13px', fontSize: '9.5px' });
addLabel('Temporal yield variance', { right: '2px', top: '1px', fontSize: '9.5px' });
addLabel('[(t/ha)²]', { right: '2px', top: '13px', fontSize: '9.5px' });

rowTitles.forEach((t, r) => addLabel(t, { left: '25px', top: (rowTop(r) + 1) + 'px', fontSize: '11px' }));

addLabel('Trend in mean yield', { left: '94px', top: '65px', fontSize: '10px' });
addLabel('Yield variance', { left: '275px', top: '65px', fontSize: '10px' });

colTitles.forEach((t, c) => addLabel(t, {
  left: COL_LEFT[c] + 'px', width: PLOT_W + 'px', textAlign: 'center',
  top: '1158px', fontSize: '12px'
}));

// leader lines and bottom brackets
const svgNS = 'http://www.w3.org/2000/svg';
const svg = document.createElementNS(svgNS, 'svg');
svg.setAttribute('width', '685');
svg.setAttribute('height', '1176');
function svgPath(d, color, w) {
  const el = document.createElementNS(svgNS, 'path');
  el.setAttribute('d', d);
  el.setAttribute('fill', 'none');
  el.setAttribute('stroke', color);
  el.setAttribute('stroke-width', w);
  svg.appendChild(el);
}
svgPath('M95.5 77 L81 141', '#222', 0.8);
svgPath('M276 77 L268 133', '#222', 0.8);
COL_LEFT.forEach(x => {
  const x1 = x + 0.5, x2 = x + PLOT_W - 0.5;
  svgPath(`M${x1} 1139 L${x1} 1150 Q${x1} 1153.5 ${x1 + 4} 1153.5 L${x2 - 4} 1153.5 Q${x2} 1153.5 ${x2} 1150 L${x2} 1139`, '#777', 1);
});
document.body.appendChild(svg);
</script>
</body>
</html>
